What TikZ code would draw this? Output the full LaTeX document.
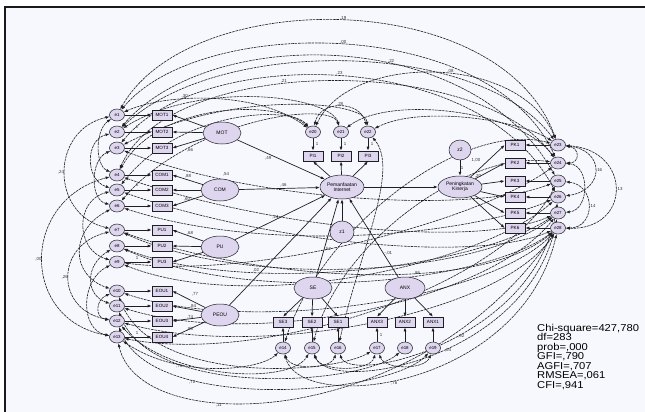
\documentclass[tikz,border=0pt]{standalone}
\usepackage{fontspec}
\setmainfont{Liberation Sans}
\newfontfamily\estatfont{Liberation Sans}[FakeStretch=1.12]
\usepackage{xcolor}
\usepackage{tikz}
\usetikzlibrary{arrows.meta,shapes.geometric}
\definecolor{fundo}{RGB}{247,248,253}
\definecolor{lilas}{RGB}{222,213,238}
\definecolor{traco}{RGB}{30,30,35}
\pgfdeclarelayer{tras}
\pgfsetlayers{tras,main}
\tikzset{
    indicador/.style={
        rectangle,
        draw=traco,
        fill=lilas,
        line width=0.7pt,
        minimum width=20pt,
        minimum height=10pt,
        inner sep=0pt,
        font=\fontsize{4.6}{5}\selectfont
    },
    latente/.style={
        ellipse,
        draw=traco,
        fill=lilas,
        line width=0.5pt,
        minimum width=38pt,
        minimum height=22pt,
        inner sep=0pt,
        align=center,
        font=\fontsize{5}{5.4}\selectfont
    },
    erro/.style={latente, minimum width=15pt, minimum height=12pt, font=\fontsize{4.4}{5}\selectfont},
    fluxo/.style={-{Latex[length=4pt,width=3pt]}, draw=traco, line width=0.7pt},
    covar/.style={{Latex[length=4pt,width=3pt]}-{Latex[length=4pt,width=3pt]},
        draw=traco, line width=0.6pt, dash pattern=on 2.6pt off 0.8pt},
    coef/.style={font=\fontsize{4.4}{5}\selectfont, inner sep=0.6pt, text=black!80}
}
\begin{document}
\begin{tikzpicture}[x=1pt, y=-1pt]
    \useasboundingbox (0,0) rectangle (645,412);
    \begin{pgfonlayer}{tras}
        \fill[white] (0,0) rectangle (645,412);
        \fill[fundo] (5,7) rectangle (645,412);
    \end{pgfonlayer}
    \draw[line width=2pt, black!90] (5,412) -- (5,7) -- (645,7);

    % indicadores e erros da esquerda
    \foreach \nome/\rot/\y [count=\i] in {mot1/MOT1/115, mot2/MOT2/132, mot3/MOT3/148,
        com1/COM1/175, com2/COM2/190, com3/COM3/206,
        pu1/PU1/230, pu2/PU2/246, pu3/PU3/262,
        eou1/EOU1/291, eou2/EOU2/306, eou3/EOU3/321, eou4/EOU4/337}{
        \node[erro] (e\i) at (117,\y) {e\i};
        \node[indicador] (\nome) at (162,\y) {\rot};
        \begin{pgfonlayer}{tras}
            \draw[fluxo] (e\i) -- (\nome);
        \end{pgfonlayer}
    }

    % latentes
    \node[latente] (mot) at (222,133) {MOT};
    \node[latente] (com) at (220,190) {COM};
    \node[latente] (pu) at (220,247) {PU};
    \node[latente] (peou) at (220,315) {PEOU};
    \node[latente, minimum width=44pt, minimum height=24pt] (pi) at (342,187) {Pemanfaatan\\Internet};
    \node[latente, minimum width=24pt] (z1) at (342,232) {z1};
    \node[latente, minimum width=44pt] (pk) at (460,187) {Peningkatan\\Kinerja};
    \node[latente, minimum width=22pt, minimum height=20pt] (z2) at (460,150) {z2};
    \node[latente] (se) at (313,288) {SE};
    \node[latente, minimum width=40pt] (anx) at (405,288) {ANX};

    % indicadores de cima, da direita e de baixo
    \foreach \rot/\x [count=\i from 20] in {PI1/313, PI2/341, PI3/368}{
        \node[erro] (e\i) at (\x,132) {e\i};
        \node[indicador] (\rot) at (\x,156) {\rot};
    }
    \foreach \y [count=\i, evaluate=\i as \j using int(\i+22)] in {145,163,181,197,213,228}{
        \node[indicador] (pk\i) at (515,\y) {PK\i};
        \node[erro] (e\j) at (558,\y) {e\j};
    }
    \foreach \rot/\x [count=\i from 14] in {SE3/283, SE2/312, SE1/338, ANX3/377, ANX2/405, ANX1/433}{
        \node[indicador] (\rot) at (\x,322) {\rot};
        \node[erro] (e\i) at (\x,348) {e\i};
    }

    \node[anchor=north west, align=left, inner sep=0pt, font=\estatfont\fontsize{10}{9.5}\selectfont]
        (ajuste) at (537,324) {Chi-square=427,780\\df=283\\prob=,000\\GFI=,790\\AGFI=,707\\RMSEA=,061\\CFI=,941};

    \begin{pgfonlayer}{tras}
        % cargas
        \foreach \lat/\alvos in {mot/{mot1,mot2,mot3}, com/{com1,com2,com3},
            pu/{pu1,pu2,pu3}, peou/{eou1,eou2,eou3,eou4}}{
            \foreach \a in \alvos {\draw[fluxo] (\lat) -- (\a.east);}
        }
        \foreach \a in {PI1,PI2,PI3} {\draw[fluxo] (pi) -- (\a.south);}
        \foreach \a/\b in {e20/PI1, e21/PI2, e22/PI3} {\draw[fluxo] (\a) -- (\b);}
        \foreach \i [evaluate=\i as \j using int(\i+22)] in {1,...,6}{
            \draw[fluxo] (pk) -- (pk\i.west);
            \draw[fluxo] (e\j) -- (pk\i);
        }
        \foreach \a in {SE3,SE2,SE1} {\draw[fluxo] (se) -- (\a.north);}
        \foreach \a in {ANX3,ANX2,ANX1} {\draw[fluxo] (anx) -- (\a.north);}
        \foreach \a/\b in {e14/SE3, e15/SE2, e16/SE1, e17/ANX3, e18/ANX2, e19/ANX1} {\draw[fluxo] (\a) -- (\b);}

        % caminhos estruturais
        \draw[fluxo] (mot) -- node[coef, pos=0.4, below left] (r49) {,49} (pi);
        \draw[fluxo] (com) -- node[coef, pos=0.55, above] (r46) {,46} (pi);
        \draw[fluxo] (pu) -- node[coef, pos=0.45, above] (r24a) {,24} (pi);
        \draw[fluxo] (peou) -- node[coef, pos=0.3, above left] (r02) {,02} (pi);
        \draw[fluxo] (se) -- node[coef, pos=0.35, right] (r52) {,52} (pi);
        \draw[fluxo] (anx) -- node[coef, pos=0.3, right] (r01) {-,01} (pi);
        \draw[fluxo] (z1) -- (pi);
        \draw[fluxo] (pi) -- (pk);
        \draw[fluxo] (z2) -- node[coef, right] (u1) {1} (pk);

        % covariancias de cima
        \draw[covar] (e1) .. controls (190,-14) and (500,-14) .. node[coef, above] (r19) {,19} (e23);
        \draw[covar] (e1) .. controls (200,15) and (490,15) .. node[coef, above] (r00a) {,00} (e24);
        \draw[covar] (e2) .. controls (210,25) and (470,25) .. node[coef, pos=0.6, above] (r22) {,22} (e25);
        \draw[covar] (e3) .. controls (200,46) and (480,46) .. node[coef, above] (r23) {,23} (e26);
        \draw[covar] (e4) .. controls (170,54) and (480,54) .. node[coef, pos=0.42, above] (r21) {,21} (e24);
        \draw[covar] (e20) .. controls (350,53) and (520,53) .. node[coef, pos=0.55, above] (r08) {,08} (e23);
        \draw[covar] (e1) .. controls (170,92) and (260,92) .. node[coef, pos=0.35, above] (r30) {,30} (e20);
        \draw[covar] (e20) .. controls (320,100) and (360,100) .. node[coef, above] (r28) {,28} (e22);
        \foreach \a/\b/\xa/\ya/\xb/\yb in {e2/e21/200/80/330/95, e3/e22/230/90/365/100,
            e5/e20/180/110/290/105, e6/e21/190/120/330/100, e4/e20/160/100/280/100,
            e22/e23/420/105/520/120, e21/e24/390/95/520/110, e2/e23/220/35/480/40}{
            \draw[covar] (\a) .. controls (\xa,\ya) and (\xb,\yb) .. (\b);
        }

        % covariancias pelo meio
        \foreach \a/\b/\xa/\ya/\xb/\yb in {e4/e27/260/225/470/250, e5/e28/260/240/470/265,
            e6/e26/270/255/470/235, e7/e27/250/290/480/275, e8/e28/250/305/480/285,
            e9/e26/250/315/480/265, e10/e28/250/335/490/300, e11/e27/260/350/490/300,
            e12/e28/260/360/500/315, e13/e25/260/365/500/290, e3/e25/250/200/470/215,
            e9/e24/260/280/480/220, e14/e23/320/230/460/120, e15/e24/340/240/470/150,
            e16/e22/360/250/400/170, e7/e28/240/275/470/300, e8/e27/245/295/470/270}{
            \draw[covar] (\a) .. controls (\xa,\ya) and (\xb,\yb) .. (\b);
        }

        % covariancias de baixo
        \draw[covar] (e13) .. controls (140,440) and (420,430) .. node[coef, pos=0.35, below] (r11) {,11} (e28);
        \draw[covar] (e12) .. controls (150,415) and (390,395) .. node[coef, pos=0.3, below] (r72) {,72} (e19);
        \draw[covar] (e11) .. controls (150,400) and (360,385) .. node[coef, pos=0.28, below] (r76a) {,76} (e18);
        \draw[covar] (e14) .. controls (300,415) and (520,390) .. node[coef, pos=0.45, below] (r76b) {,76} (e28);
        \draw[covar] (e15) .. controls (330,395) and (530,360) .. node[coef, pos=0.55, below] (r04) {,04} (e27);
        \draw[covar] (e16) .. controls (350,385) and (540,340) .. node[coef, pos=0.55, below] (r92) {,92} (e26);
        \foreach \a/\b/\xa/\ya/\xb/\yb in {e10/e17/150/385/330/375, e14/e16/290/370/330/370,
            e15/e17/320/372/370/372, e17/e19/385/370/425/370, e13/e14/180/380/260/370,
            e12/e15/170/380/290/385}{
            \draw[covar] (\a) .. controls (\xa,\ya) and (\xb,\yb) .. (\b);
        }

        % covariancias da esquerda
        \draw[covar] (e1) .. controls (50,130) and (50,215) .. node[coef, left] (r24b) {,24} (e7);
        \draw[covar] (e4) .. controls (20,200) and (20,320) .. node[coef, left] (r00b) {,00} (e13);
        \draw[covar] (e7) .. controls (55,245) and (55,310) .. node[coef, left] (r26) {,26} (e12);
        \foreach \a/\b/\xa/\ya/\xb/\yb in {e2/e5/85/140/85/180, e3/e6/90/160/90/200,
            e1/e4/95/130/95/165, e8/e11/85/265/85/295, e9/e13/80/280/80/330,
            e10/e12/95/300/95/318, e5/e9/75/200/75/250, e6/e10/70/230/70/275}{
            \draw[covar] (\a) .. controls (\xa,\ya) and (\xb,\yb) .. (\b);
        }

        % covariancias da direita
        \draw[covar] (e23) .. controls (632,150) and (632,230) .. node[coef, right] (r13) {,13} (e28);
        \draw[covar] (e23) .. controls (605,150) and (605,190) .. node[coef, right] (r16) {,16} (e26);
        \draw[covar] (e25) .. controls (596,185) and (596,228) .. node[coef, right] (r14) {,14} (e28);
        \draw[covar] (e24) .. controls (590,165) and (590,210) .. (e27);
        \draw[covar] (e23) .. controls (580,148) and (580,163) .. (e24);
    \end{pgfonlayer}

    % demais coeficientes
    \node[coef] (u2) at (137,127) {1};
    \node[coef] (u5) at (137,185) {1};
    \node[coef] (u9) at (137,258) {1};
    \node[coef] (u13) at (137,333) {1};
    \node[coef] (u20) at (317,144) {1};
    \node[coef] (u21) at (345,144) {1};
    \node[coef] (u22) at (372,144) {1};
    \node[coef] (u17) at (381,335) {1};
    \node[coef] (c66) at (190,150) {,66};
    \node[coef] (c88) at (188,176) {,88};
    \node[coef] (c60) at (187,199) {,60};
    \node[coef] (c68) at (190,233) {,68};
    \node[coef] (c77) at (195,294) {,77};
    \node[coef] (c84) at (193,306) {,84};
    \node[coef] (c74) at (190,317) {,74};
    \node[coef] (c85) at (190,329) {,85};
    \node[coef] (c54) at (226,174) {,54};
    \node[coef] (c100) at (476,160) {1,00};
    \node[coef] (c20) at (478,176) {,20};
    \node[coef] (c86) at (417,273) {,86};
\end{tikzpicture}
\end{document}
